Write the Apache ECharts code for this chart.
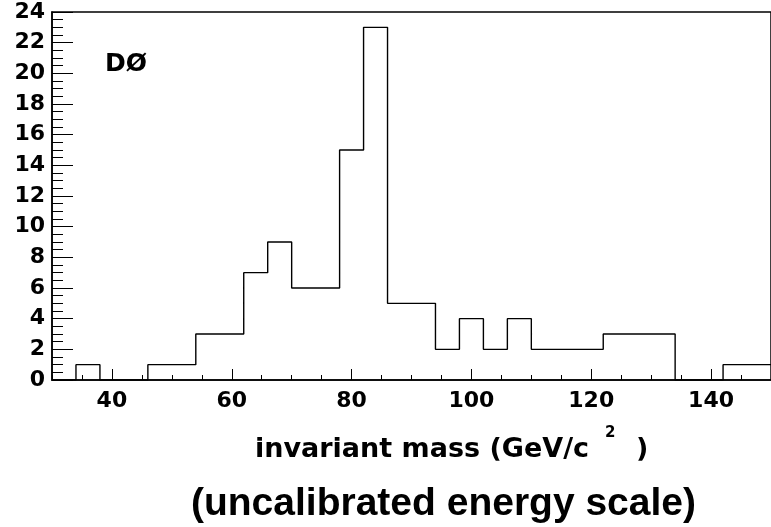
<!DOCTYPE html>
<html>
<head>
<meta charset="utf-8">
<script src="https://cdn.jsdelivr.net/npm/echarts@6/dist/echarts.min.js"></script>
<style>
html,body{margin:0;padding:0;background:#fff;}
#chart{width:771px;height:527px;}
</style>
</head>
<body>
<div id="chart"></div>
<script>
// Histogram bins (left edges, width 4 GeV/c^2) and counts
var binLeftEdges = [30,34,38,42,46,50,54,58,62,66,70,74,78,82,86,90,94,98,102,106,110,114,118,122,126,130,134,138,142,146];
var binCounts    = [0, 1, 0, 0, 1, 1, 3, 3, 7, 9, 6, 6, 15,23,5, 5, 2, 4, 2,  4,  2,  2,  2,  3,  3,  3,  0,  0,  1,  1];
var binWidth = 4;
var xTickValues = [40, 60, 80, 100, 120, 140];
var yTickValues = [0,2,4,6,8,10,12,14,16,18,20,22,24];
var xTitle = 'invariant mass (GeV/c';
var xTitleSup = '2';
var xTitleEnd = ')';
var subTitle = '(uncalibrated energy scale)';
var expLabel = 'DØ';

var stepData = binLeftEdges.map(function(x, i){ return [x, binCounts[i]]; });
var lastEdge = binLeftEdges[binLeftEdges.length-1] + binWidth;
stepData.push([lastEdge, binCounts[binCounts.length-1]]);

var tickFont = 'DejaVu Sans';
var chart = echarts.init(document.getElementById('chart'), null, {renderer:'canvas'});
chart.setOption({
  animation: false,
  backgroundColor: '#fff',
  grid: {left: 52, top: 12, right: -4.6, bottom: 147, show: true, borderColor: '#000', borderWidth: 1.5, backgroundColor: 'transparent'},
  xAxis: [{
    type: 'value', min: 30, max: 150, interval: 5,
    axisLine: {show: true, onZero: false, lineStyle: {color: '#000', width: 1.5}},
    axisTick: {show: true, inside: true, length: 5, lineStyle: {color: '#000', width: 1}},
    axisLabel: {show: false},
    splitLine: {show: false}
  }, {
    type: 'value', min: 30, max: 150, position: 'bottom',
    axisLine: {show: false},
    axisTick: {show: true, inside: true, length: 11, customValues: xTickValues, lineStyle: {color: '#000', width: 1}},
    axisLabel: {show: true, customValues: xTickValues, margin: 10, color: '#000', fontFamily: tickFont, fontWeight: 'bold', fontSize: 22},
    splitLine: {show: false}
  }],
  yAxis: {
    type: 'value', min: 0, max: 24, interval: 2,
    axisLine: {show: true, lineStyle: {color: '#000', width: 1.5}},
    axisTick: {show: true, inside: true, length: 21, lineStyle: {color: '#000', width: 1}},
    minorTick: {show: true, splitNumber: 4, length: 11, lineStyle: {color: '#000', width: 1}},
    axisLabel: {show: true, margin: 7, color: '#000', fontFamily: tickFont, fontWeight: 'bold', fontSize: 22, padding: [2, 0, 0, 0]},
    splitLine: {show: false},
    minorSplitLine: {show: false}
  },
  series: [{
    type: 'line', xAxisIndex: 0, step: 'end', data: stepData,
    symbol: 'none', clip: true,
    lineStyle: {color: '#000', width: 1.4}
  }],
  graphic: [
    {type: 'text', left: 105, top: 52, style: {text: expLabel, font: 'bold 25px "DejaVu Sans"', fill: '#000'}},
    {type: 'text', x: 255, y: 450, style: {text: xTitle, font: 'bold 27px "DejaVu Sans"', fill: '#000', textAlign: 'left', textVerticalAlign: 'middle'}},
    {type: 'text', x: 605, y: 433, style: {text: xTitleSup, font: 'bold 15px "DejaVu Sans"', fill: '#000', textAlign: 'left', textVerticalAlign: 'middle'}},
    {type: 'text', x: 636, y: 450, style: {text: xTitleEnd, font: 'bold 27px "DejaVu Sans"', fill: '#000', textAlign: 'left', textVerticalAlign: 'middle'}},
    {type: 'text', x: 443.5, y: 504.6, style: {text: subTitle, font: 'bold 39px "Liberation Sans"', fill: '#000', textAlign: 'center', textVerticalAlign: 'middle'}}
  ]
});
</script>
</body>
</html>
